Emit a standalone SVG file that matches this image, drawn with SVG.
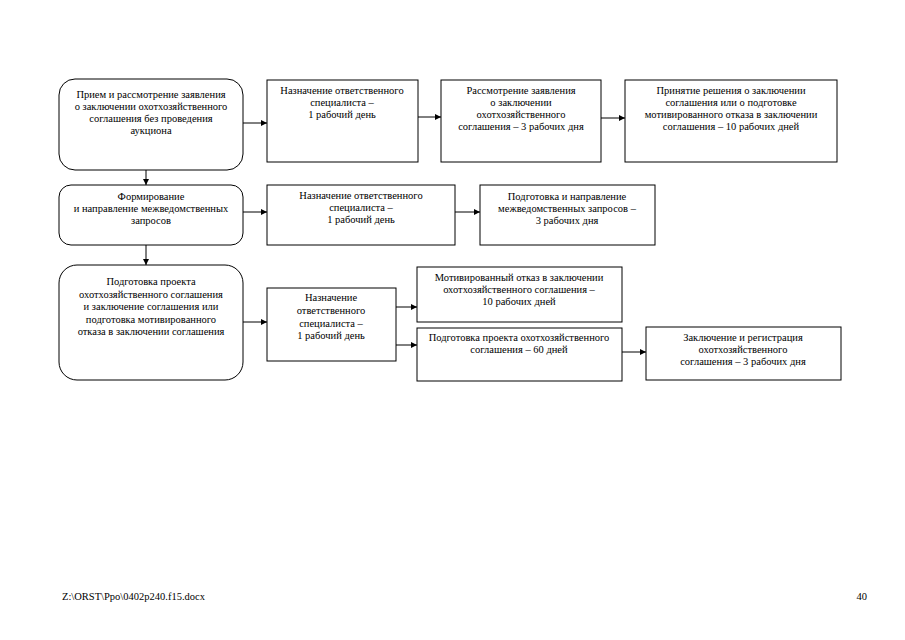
<svg xmlns="http://www.w3.org/2000/svg" width="905" height="640" viewBox="0 0 905 640">
<style>
.b{fill:#fff;stroke:#000;stroke-width:1}
.t{font-family:"Liberation Serif","Times New Roman",serif;font-size:10.5px;fill:#000;text-anchor:middle}
.c{stroke:#000;stroke-width:1;fill:none;marker-end:url(#ah)}
.f{font-family:"Liberation Serif","Times New Roman",serif;font-size:10.5px;fill:#000}
</style>
<defs>
<marker id="ah" viewBox="0 0 10 10" refX="10" refY="5" markerWidth="6" markerHeight="6" markerUnits="userSpaceOnUse" orient="auto">
<path d="M0,0 L10,5 L0,10 z" fill="#000"/>
</marker>
</defs>
<rect width="905" height="640" fill="#fff"/>
<g id="connectors">
<line class="c" x1="243" y1="123" x2="267" y2="123"/>
<line class="c" x1="418" y1="117" x2="441" y2="117"/>
<line class="c" x1="601" y1="118" x2="625" y2="118"/>
<line class="c" x1="146" y1="170" x2="146" y2="185"/>
<line class="c" x1="243" y1="212" x2="267" y2="212"/>
<line class="c" x1="455" y1="212" x2="480" y2="212"/>
<line class="c" x1="146" y1="245" x2="146" y2="265"/>
<line class="c" x1="243" y1="322" x2="267" y2="322"/>
<line class="c" x1="396" y1="307" x2="417" y2="307"/>
<line class="c" x1="396" y1="345" x2="417" y2="345"/>
<line class="c" x1="622" y1="352" x2="646" y2="352"/>
</g>
<g id="n1"><rect class="b" x="59" y="79" width="184" height="91" rx="16"/>
<text class="t" x="151" y="98">Прием и рассмотрение заявления</text>
<text class="t" x="151" y="110">о заключении охотхозяйственного</text>
<text class="t" x="151" y="122">соглашения без проведения</text>
<text class="t" x="151" y="134">аукциона</text></g>
<g id="n2"><rect class="b" x="267" y="80" width="151" height="82"/>
<text class="t" x="342" y="94">Назначение ответственного</text>
<text class="t" x="342" y="106">специалиста –</text>
<text class="t" x="342" y="118">1 рабочий день</text></g>
<g id="n3"><rect class="b" x="441" y="80" width="160" height="82"/>
<text class="t" x="521" y="94">Рассмотрение заявления</text>
<text class="t" x="521" y="106">о заключении</text>
<text class="t" x="521" y="118">охотхозяйственного</text>
<text class="t" x="521" y="130">соглашения – 3 рабочих дня</text></g>
<g id="n4"><rect class="b" x="625" y="80" width="212" height="82"/>
<text class="t" x="731" y="94">Принятие решения о заключении</text>
<text class="t" x="731" y="106">соглашения или о подготовке</text>
<text class="t" x="731" y="118">мотивированного отказа в заключении</text>
<text class="t" x="731" y="130">соглашения – 10 рабочих дней</text></g>
<g id="n5"><rect class="b" x="59" y="185" width="184" height="60" rx="12"/>
<text class="t" x="151" y="200">Формирование</text>
<text class="t" x="151" y="212">и направление межведомственных</text>
<text class="t" x="151" y="224">запросов</text></g>
<g id="n6"><rect class="b" x="267" y="185" width="188" height="60"/>
<text class="t" x="361" y="199">Назначение ответственного</text>
<text class="t" x="361" y="211">специалиста –</text>
<text class="t" x="361" y="223">1 рабочий день</text></g>
<g id="n7"><rect class="b" x="480" y="185" width="175" height="60"/>
<text class="t" x="567" y="200">Подготовка и направление</text>
<text class="t" x="567" y="212">межведомственных запросов –</text>
<text class="t" x="567" y="224">3 рабочих дня</text></g>
<g id="n8"><rect class="b" x="59" y="265" width="184" height="115" rx="18"/>
<text class="t" x="151" y="285">Подготовка проекта</text>
<text class="t" x="151" y="298">охотхозяйственного соглашения</text>
<text class="t" x="151" y="310">и заключение соглашения или</text>
<text class="t" x="151" y="323">подготовка мотивированного</text>
<text class="t" x="151" y="335">отказа в заключении соглашения</text></g>
<g id="n9"><rect class="b" x="267" y="288" width="129" height="73"/>
<text class="t" x="331" y="301">Назначение</text>
<text class="t" x="331" y="314">ответственного</text>
<text class="t" x="331" y="327">специалиста –</text>
<text class="t" x="331" y="339">1 рабочий день</text></g>
<g id="n10"><rect class="b" x="417" y="267" width="205" height="55"/>
<text class="t" x="519" y="281">Мотивированный отказ в заключении</text>
<text class="t" x="519" y="293">охотхозяйственного соглашения –</text>
<text class="t" x="519" y="305">10 рабочих дней</text></g>
<g id="n11"><rect class="b" x="417" y="328" width="205" height="53"/>
<text class="t" x="519" y="341">Подготовка проекта охотхозяйственного</text>
<text class="t" x="519" y="353">соглашения – 60 дней</text></g>
<g id="n12"><rect class="b" x="646" y="327" width="195" height="53"/>
<text class="t" x="743" y="341">Заключение и регистрация</text>
<text class="t" x="743" y="353">охотхозяйственного</text>
<text class="t" x="743" y="365">соглашения – 3 рабочих дня</text></g>
<text class="f" x="62" y="600">Z:\ORST\Ppo\0402p240.f15.docx</text>
<text class="f" x="867" y="600" text-anchor="end">40</text>
</svg>
